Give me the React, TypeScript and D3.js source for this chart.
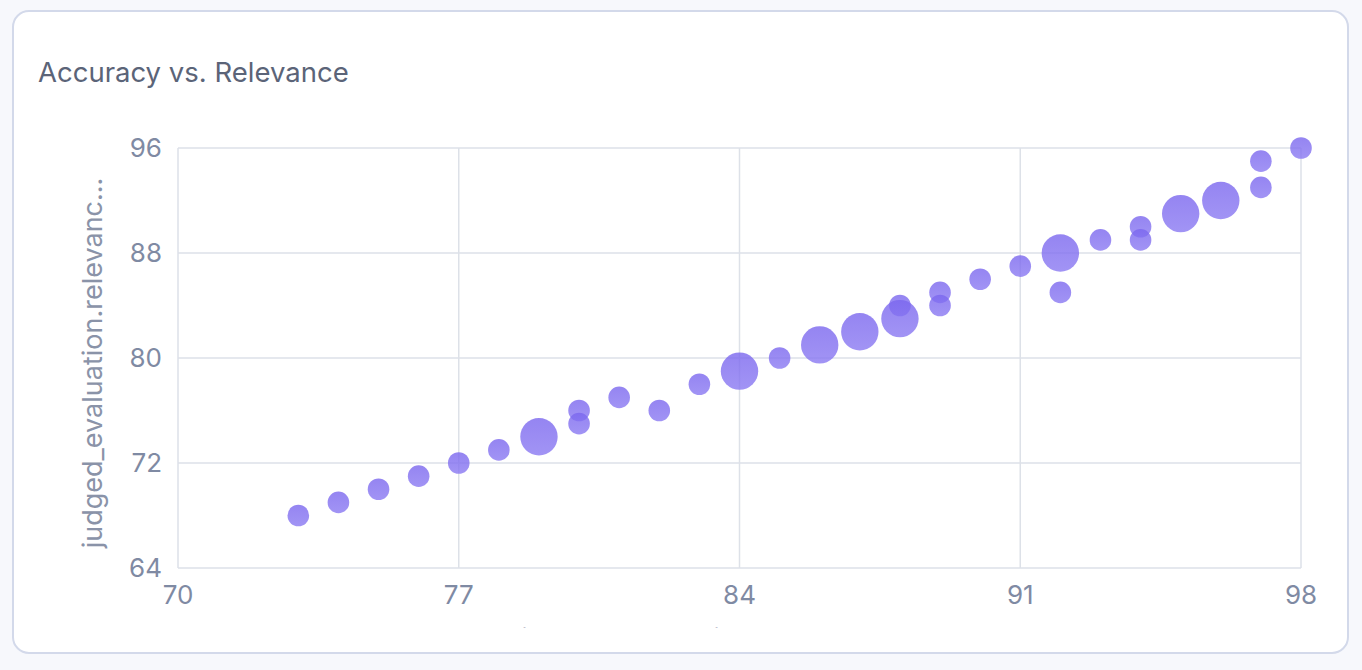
import React from "react";
import * as d3 from "d3";

// accuracy (x), relevance (y), bubble weight
const accuracy = [
  73, 74, 75, 76, 77, 78, 79, 80, 80, 81, 82, 83, 84, 85, 86, 87, 88, 88, 89, 89,
  90, 91, 92, 92, 93, 94, 94, 95, 96, 97, 97, 98,
];
const relevance = [
  68, 69, 70, 71, 72, 73, 74, 76, 75, 77, 76, 78, 79, 80, 81, 82, 84, 83, 85, 84,
  86, 87, 88, 85, 89, 90, 89, 91, 92, 95, 93, 96,
];
const weight = [
  1, 1, 1, 1, 1, 1, 3, 1, 1, 1, 1, 1, 3, 1, 3, 3, 1, 3, 1, 1,
  1, 1, 3, 1, 1, 1, 1, 3, 3, 1, 1, 1,
];
const xTicks = [70, 77, 84, 91, 98];
const yTicks = [64, 72, 80, 88, 96];

const W = 1362;
const H = 670;
const font = "Inter, 'Noto Sans', sans-serif";

const App: React.FC = () => {
  const x = d3.scaleLinear().domain([70, 98]).range([178, 1301]);
  const y = d3.scaleLinear().domain([64, 96]).range([568, 148]);
  const r = d3.scaleSqrt().domain([0, 3]).range([0, 18.7]);

  const points = accuracy.map((a, i) => ({ a, rel: relevance[i], w: weight[i] }));

  return (
    <svg
      width={W}
      height={H}
      style={{ position: "fixed", top: 0, left: 0, background: "#f7f8fc" }}
    >
      <defs>
        <clipPath id="card">
          <rect x={14} y={12} width={1333} height={616} />
        </clipPath>
        <linearGradient id="bubble" x1="0" y1="0" x2="0" y2="1">
          <stop offset="0%" stopColor="#7a66ee" />
          <stop offset="100%" stopColor="#8a79f2" />
        </linearGradient>
      </defs>
      <rect
        x={13}
        y={11}
        width={1335}
        height={642}
        rx={16}
        fill="#ffffff"
        stroke="#d3d9ea"
        strokeWidth={2}
      />
      <text x={38} y={82} fontFamily={font} fontSize={27.5} fill="#5b6478">
        Accuracy vs. Relevance
      </text>

      {/* grid */}
      <g>
        {xTicks.map((t) => (
          <line key={"gx" + t} x1={x(t)} x2={x(t)} y1={y(96)} y2={y(64)} stroke="#dde1e8" strokeWidth={1.5} />
        ))}
        {yTicks.map((t) => (
          <line key={"gy" + t} x1={x(70)} x2={x(98)} y1={y(t)} y2={y(t)} stroke="#dde1e8" strokeWidth={1.5} />
        ))}
      </g>

      {/* tick labels */}
      <g fontFamily={font} fontSize={26} fill="#7f8aa3">
        {yTicks.map((t) => (
          <text key={"ty" + t} x={162} y={y(t)} dy="0.36em" textAnchor="end">
            {t}
          </text>
        ))}
        {xTicks.map((t) => (
          <text key={"tx" + t} x={x(t)} y={604} textAnchor="middle">
            {t}
          </text>
        ))}
      </g>

      <text
        transform={`translate(102,${(y(64) + y(96)) / 2 + 5}) rotate(-90)`}
        textAnchor="middle"
        fontFamily={font}
        fontSize={27}
        fill="#8a93a8"
      >
        judged_evaluation.relevanc...
      </text>
      <g clipPath="url(#card)">
        <text
          x={x(84) - 36}
          y={648}
          textAnchor="middle"
          fontFamily={font}
          fontSize={27}
          fill="#8a93a8"
        >
          judged_evaluation.accurac...
        </text>
      </g>

      {/* bubbles */}
      <g>
        {points.map((p, i) => (
          <circle
            key={i}
            cx={x(p.a)}
            cy={y(p.rel)}
            r={r(p.w)}
            fill="url(#bubble)"
            fillOpacity={0.8}
          />
        ))}
      </g>
    </svg>
  );
};

export default App;
